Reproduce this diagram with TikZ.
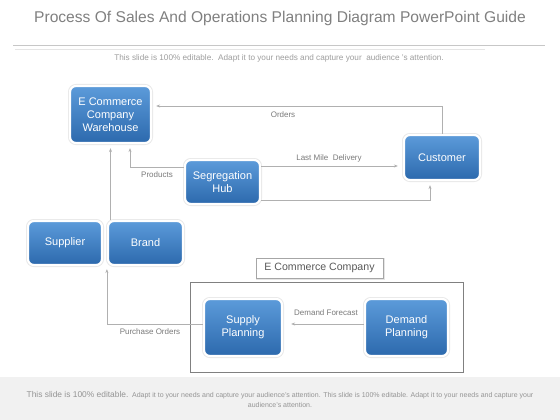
\documentclass[tikz,border=0pt]{standalone}
\usepackage{fontspec}
\setmainfont{Liberation Sans}
\usetikzlibrary{arrows.meta,calc}
\definecolor{bluetop}{HTML}{5C9BDA}
\definecolor{bluebot}{HTML}{2C69AD}
\definecolor{linegray}{HTML}{B0B0B0}
\definecolor{labelgray}{HTML}{7A7A7A}
\definecolor{footbg}{HTML}{F1F1F1}
\tikzset{
  bluebox/.style={rectangle, rounded corners=6pt, top color=bluetop, bottom color=bluebot,
    draw=white, line width=2.2pt, preaction={draw=black!9, line width=4pt},
    text=white, align=center, inner sep=0pt, font=\fontsize{11}{13}\selectfont},
  arr/.style={draw=linegray, line width=0.7pt, -{Stealth[length=4pt,width=3pt]}},
  lbl/.style={text=labelgray, font=\fontsize{8}{9}\selectfont, inner sep=1pt}
}
\begin{document}
\begin{tikzpicture}[x=1pt,y=-1pt]
\useasboundingbox (0,0) rectangle (560,420);
\fill[white] (0,0) rectangle (560,420);
% header
\node[text=black!50, font=\fontsize{15.6}{17}\selectfont] (title) at (280,18) {Process Of Sales And Operations Planning Diagram PowerPoint Guide};
\draw[black!22, line width=0.6pt] (13,45) -- (545,45);
\draw[black!10, line width=0.6pt] (15,49) -- (485,49);
\node[text=black!38, font=\fontsize{8.2}{9}\selectfont] (sub) at (279,58) {This slide is 100\% editable.\ \ Adapt it to your needs and capture your\ \ audience\ 's attention.};
% footer
\fill[footbg] (0,377) rectangle (560,420);
\node[text=black!42, align=center, inner sep=0pt] (foot) at (280,399.5)
 {{\fontsize{8.4}{9}\selectfont This slide is 100\% editable.} {\fontsize{7}{9}\selectfont Adapt it to your needs and capture your audience's attention. This slide is 100\% editable. Adapt it to your needs and capture your}\\[-1.5pt]
 {\fontsize{7}{8}\selectfont audience's attention.}};
% company frame
\draw[black!50, line width=0.7pt] (190,282) rectangle (463,372);
\node[draw=black!35, fill=white, line width=0.6pt, minimum width=127pt, minimum height=20pt, inner sep=0pt,
  text=black!65, font=\fontsize{10.6}{12}\selectfont,
  preaction={draw=black!10, line width=2pt, transform canvas={xshift=0.8pt,yshift=-0.8pt}}] (eco) at (319.5,268) {E Commerce Company};
% boxes
\node[bluebox, minimum width=81pt, minimum height=57pt] (wh) at (110.5,114.5) {E Commerce\\Company\\Warehouse};
\node[bluebox, minimum width=75pt, minimum height=44pt] (hub) at (222.5,182) {Segregation\\Hub};
\node[bluebox, minimum width=74pt, minimum height=44pt] (supl) at (65,243) {Supplier};
\node[bluebox, minimum width=75pt, minimum height=44pt] (brand) at (145.5,243) {Brand};
\node[bluebox, minimum width=76pt, minimum height=45pt] (cust) at (442,157.5) {Customer};
\node[bluebox, minimum width=78pt, minimum height=57pt] (sup) at (243,327.5) {Supply\\Planning};
\node[bluebox, minimum width=83pt, minimum height=57pt] (dem) at (406.5,327.5) {Demand\\Planning};
% connectors
\draw[arr, shorten >=4pt] (cust.north) |- ([yshift=8.5pt]wh.east);
\draw[arr, shorten >=5pt] ([yshift=16pt]hub.east) coordinate (lm) -- (lm -| cust.west);
\draw[arr, shorten >=4pt] ([yshift=-18pt]hub.east) -| ([xshift=-12pt]cust.south);
\draw[arr, shorten >=4pt] ([yshift=15pt]hub.west) -| ([xshift=19.5pt]wh.south);
\draw[arr, shorten >=4pt] (wh.south |- brand.north) -- (wh.south);
\draw[arr, shorten >=3pt] ([yshift=3.5pt]sup.west) -| (brand.south west);
\draw[arr, shorten >=8pt] ([yshift=3.5pt]dem.west) coordinate (df) -- (df -| sup.east);
% labels
\node[lbl] (lorders) at (283,115) {Orders};
\node[lbl] (llast) at (329,158) {Last Mile\ \ Delivery};
\node[lbl] (lprod) at (157,175) {Products};
\node[lbl] (lpurch) at (150,332) {Purchase Orders};
\node[lbl] (ldf) at (326,313) {Demand Forecast};
\end{tikzpicture}
\end{document}
